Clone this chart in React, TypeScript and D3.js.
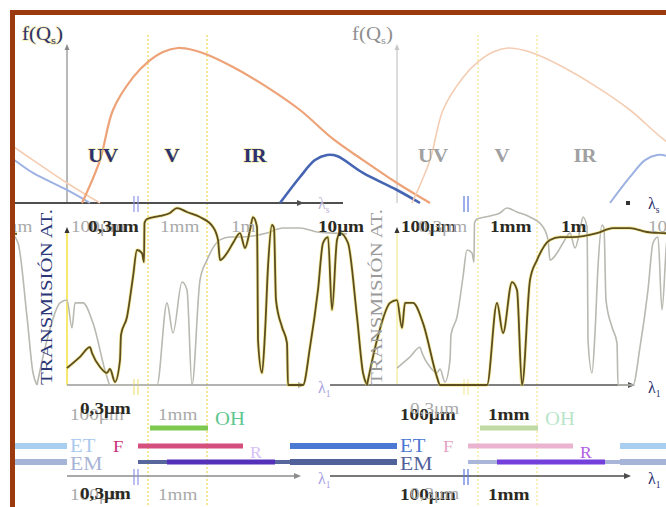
import React, { useEffect, useRef } from 'react';
import * as d3 from 'd3';

const W = 666;
const H = 507;
const PERIOD = 330;

// positions along a panel's wavelength axis (0 = vertical axis, 238 = arrow tip)
const bandNames = ['UV', 'V', 'IR'];
const bandCentres = [36, 105, 188];
const bandEdges = [81, 140];

// f(Q) emission curves (0..100)
const sunPos = [15, 33, 46, 66, 81, 96, 111, 126, 141, 166, 200, 233, 266, 296, 330, 363];
const sunVal = [0, 27.7, 60, 81, 91, 97.4, 100, 98.7, 95.5, 87.7, 74.8, 60, 41.3, 27.7, 12.9, 0];
const earthPos = [213, 233, 248, 260, 270, 296, 330, 353];
const earthVal = [0, 16.8, 27.7, 31, 30.3, 19.4, 8.4, 0];

// atmospheric transmission (%), two overlapping frames
const transAPos = [0, 13, 23, 25, 33, 40, 43, 48, 53, 54, 60, 66, 70, 75, 77, 77.5, 80, 93, 103, 110,
  120, 133, 146, 151, 153, 160, 166, 173, 178, 183, 186, 190, 190.5, 191, 195, 198, 201, 205, 207, 209,
  215, 220, 221, 236, 243, 251, 256, 261, 265, 270, 273, 281, 290, 296, 300];
const transAVal = [9.4, 15.6, 21, 17.8, 10, 6.7, 8.9, 1.7, 13.9, 27.8, 37.8, 60, 75, 73.3, 68.3, 90, 92.2, 93.9, 95.6, 98.3,
  96.1, 93.3, 87.8, 80.6, 69.4, 73.3, 78.9, 84.4, 76.1, 86.1, 93.3, 87.8, 65.6, 25, 6.7, 28.9, 65.6, 88.9, 87.2, 47.2,
  32.2, 23.3, 0, 0, 21, 52.8, 78.9, 82.2, 41.7, 80.6, 84.4, 78.9, 37.8, 6.7, 0];
const transBPos = [-30, -20, -7, 0, 5, 8, 16, 26, 40, 43, 90, 100, 106, 115, 120, 125, 133, 140, 153, 163,
  176, 200, 216, 233, 250, 266, 280];
const transBVal = [0, 25, 45.6, 47.2, 31.7, 45.6, 45.6, 34.4, 4.4, 0, 0, 45.6, 28.9, 57.2, 52.8, 0, 58.3, 69.4, 80.6, 82.2,
  82.2, 84.4, 87.2, 87.2, 85, 84.4, 84];

// wavelength tick labels
const ticksTopA = ['0,3μm', '10μm'];
const ticksTopAPos = [21, 251];
const ticksTopB = ['100μm', '1mm', '1m'];
const ticksTopBPos = [4, 93, 164];
const ticksBotA = ['0,3μm'];
const ticksBotAPos = [13];
const ticksBotB = ['100μm', '1mm'];
const ticksBotBPos = [3, 91];

// legend ranges
const ohRange = [83, 141];
const etRange = [-107, 0];
const rRange = [71, 176];
const emRange = [71, 276];
const emLeftRange = [-107, 0];
const violetRange = [100, 208];

const DARK_TXT = '#2b2a22';
const GRAY_TXT = '#a9a9a9';

const STRONG = {
  dash: '#f0d84a', topAxisV: '#8a8a8a', topAxisH: '#4f4f4f', showTopH: true,
  fq: '#2d3170', band: '#2d3170', halo: true, sun: '#eda277', earth: '#4565b3', curveW: 2.2,
  lambdaS: '#bdb6d6', trans: '#2c3777', midAxisV: '#f4e23c', midAxisH: '#9a9a9a', midStart: 0,
  lambda1: '#a9a2e2', darkIsA: true, labelA: DARK_TXT, labelB: GRAY_TXT,
  oh: '#7dc84f', ohText: '#61c68f', etBar: '#a9cff0', etText: '#abc9ee', emLeft: '#a6b4d8', emText: '#a8b3d6',
  f: '#c8307c', rBar: '#d44e7e', rText: '#d8c1f6', emMain: '#57679d', violet: '#5431b8',
  botAxis: '#8c8c8c', botStart: 0, lambda1Bot: '#a9a2e2', brk: '#8d95e6', brkMid: '#f1e27a',
};

const PALE = {
  dash: '#f5e48c', topAxisV: '#c6c6c6', topAxisH: '#ffffff', showTopH: false,
  fq: '#8e8e8e', band: '#a0a0a0', halo: false, sun: '#f4cdb3', earth: '#9db2e2', curveW: 1.6,
  lambdaS: '#2d3170', trans: '#9a9a9a', midAxisV: '#f6eea6', midAxisH: '#555555', midStart: -67,
  lambda1: '#2d3170', darkIsA: false, labelA: GRAY_TXT, labelB: DARK_TXT,
  oh: '#c1daa4', ohText: '#b9e6c9', etBar: '#4b78d2', etText: '#4b78d2', emLeft: '#51619a', emText: '#51619a',
  f: '#e3a3c4', rBar: '#eab4d0', rText: '#b25fe3', emMain: '#a9b6da', violet: '#7440dc',
  botAxis: '#4d4d4d', botStart: -67, lambda1Bot: '#2d3170', brk: '#5a78e0', brkMid: '#f3e9a0',
};

const copies = [
  { off: -PERIOD, s: PALE },
  { off: 0, s: STRONG },
  { off: PERIOD, s: PALE },
  { off: 2 * PERIOD, s: STRONG },
];

function label(g: any, px: number, py: number, str: string, o: any) {
  const t = g.append('text')
    .attr('transform', `translate(${px},${py}) scale(${o.sx ?? 1.15},1)`)
    .attr('font-size', o.size ?? 16)
    .attr('font-weight', o.bold ? 'bold' : 'normal')
    .attr('fill', o.color)
    .attr('text-anchor', o.anchor ?? 'start')
    .text(str);
  if (o.sub) {
    t.append('tspan').attr('font-size', (o.size ?? 16) * 0.6).attr('dy', 4).text(o.sub);
    if (o.tail) t.append('tspan').attr('dy', -4).text(o.tail);
  }
  if (o.halo) {
    t.attr('stroke', '#ece070').attr('stroke-width', 1.5).attr('stroke-opacity', 0.55).attr('paint-order', 'stroke');
  }
  return t;
}

function arrowRight(g: any, x: number, y: number, c: string) {
  g.append('path').attr('d', `M${x - 7},${y - 3}L${x},${y}L${x - 7},${y + 3}Z`).attr('fill', c);
}
function arrowUp(g: any, x: number, y: number, c: string) {
  g.append('path').attr('d', `M${x - 2.5},${y + 6}L${x},${y}L${x + 2.5},${y + 6}Z`).attr('fill', c);
}

function breakMarks(g: any, x: any, y1: number, y2: number, c: string) {
  [67, 71].forEach(u => g.append('line')
    .attr('x1', x(u)).attr('x2', x(u)).attr('y1', y1).attr('y2', y2)
    .attr('stroke', c).attr('stroke-width', 1.2));
}

function hbar(g: any, x: any, range: number[], y: number, w: number, c: string) {
  g.append('line')
    .attr('x1', x(range[0])).attr('x2', x(range[1])).attr('y1', y).attr('y2', y)
    .attr('stroke', c).attr('stroke-width', w);
}

function drawPanel(layers: any, off: number, s: any, yTop: any, yTr: any) {
  const { back, mid, front } = layers;
  const x = d3.scaleLinear().domain([0, 238]).range([67 + off, 305 + off]);

  // band boundaries
  bandEdges.forEach(u => back.append('line')
    .attr('x1', x(u)).attr('x2', x(u)).attr('y1', 35).attr('y2', H)
    .attr('stroke', s.dash).attr('stroke-width', 1.2).attr('stroke-dasharray', '2,2'));

  // ---- emission chart ----
  back.append('line').attr('x1', x(0)).attr('x2', x(0)).attr('y1', yTop(0)).attr('y2', 50)
    .attr('stroke', s.topAxisV).attr('stroke-width', 1.2);
  arrowUp(back, x(0), 44, s.topAxisV);
  if (s.showTopH) {
    back.append('line').attr('x1', x(-55)).attr('x2', x(276)).attr('y1', yTop(0)).attr('y2', yTop(0))
      .attr('stroke', s.topAxisH).attr('stroke-width', 1.8);
    arrowRight(back, x(237), yTop(0), s.topAxisH);
  } else {
    back.append('rect').attr('x', x(231) - 2).attr('y', yTop(0) - 2).attr('width', 4).attr('height', 4).attr('fill', '#333');
  }
  breakMarks(back, x, 196, 212, s.brk);

  const topLine = d3.line<number[]>()
    .x(d => x(d[0])).y(d => yTop(d[1]))
    .curve(d3.curveCatmullRom.alpha(0.5));
  mid.append('path').attr('d', topLine(d3.zip(sunPos, sunVal)))
    .attr('fill', 'none').attr('stroke', s.sun).attr('stroke-width', s.curveW);
  mid.append('path').attr('d', topLine(d3.zip(earthPos, earthVal)))
    .attr('fill', 'none').attr('stroke', s.earth).attr('stroke-width', s.curveW + 0.4);

  label(front, x(-45), 40, 'f(Q', { size: 19, color: s.fq, halo: s.halo, sx: 1.1, sub: 's', tail: ')' });
  bandNames.forEach((b, i) => label(front, x(bandCentres[i]), 162, b,
    { size: 19, color: s.band, bold: true, anchor: 'middle', halo: s.halo, sx: 1.1 }));
  label(front, x(251), 209, 'λ', { size: 16, color: s.lambdaS, sx: 1, sub: 's' });

  // ---- transmission chart ----
  front.append('text')
    .attr('transform', `translate(${x(-15)},385) rotate(-90)`)
    .attr('font-size', 17)
    .attr('fill', s.trans)
    .attr('textLength', 176)
    .attr('lengthAdjust', 'spacingAndGlyphs')
    .text('TRANSMISIÓN AT.');

  back.append('line').attr('x1', x(0)).attr('x2', x(0)).attr('y1', 232).attr('y2', yTr(0))
    .attr('stroke', s.midAxisV).attr('stroke-width', 1.5);
  arrowUp(back, x(0), 227, '#333');
  back.append('line').attr('x1', x(s.midStart)).attr('x2', x(236)).attr('y1', yTr(0)).attr('y2', yTr(0))
    .attr('stroke', s.midAxisH).attr('stroke-width', 1.4);
  arrowRight(back, x(238), yTr(0), s.midAxisH);
  label(front, x(251), 393, 'λ', { size: 16, color: s.lambda1, sx: 1, sub: '1' });
  breakMarks(back, x, 379, 395, s.brkMid);

  // positions rise strictly, so monotone smoothing never overshoots the baseline
  const trLine = d3.line<number[]>()
    .x(d => x(d[0])).y(d => yTr(d[1]))
    .curve(d3.curveMonotoneX);
  const aPath = trLine(d3.zip(transAPos, transAVal));
  const bPath = trLine(d3.zip(transBPos, transBVal));
  const darkPath = s.darkIsA ? aPath : bPath;
  const grayPath = s.darkIsA ? bPath : aPath;
  mid.append('path').attr('d', grayPath).attr('fill', 'none').attr('stroke', '#b9b9b1')
    .attr('stroke-width', 1.6);
  mid.append('path').attr('d', darkPath).attr('fill', 'none').attr('stroke', '#ebdf5c')
    .attr('stroke-width', 3.4).attr('stroke-opacity', 0.55);
  mid.append('path').attr('d', darkPath).attr('fill', 'none').attr('stroke', '#5d4d1f')
    .attr('stroke-width', 1.8);

  ticksTopB.forEach((t, i) => label(front, x(ticksTopBPos[i]), 232, t, { size: 16, color: s.labelB, bold: s.labelB === DARK_TXT, sx: 1.2 }));
  ticksTopA.forEach((t, i) => label(front, x(ticksTopAPos[i]), 232, t, { size: 16, color: s.labelA, bold: s.labelA === DARK_TXT, sx: 1.2 }));

  // ---- spectral bands legend ----
  ticksBotB.forEach((t, i) => label(front, x(ticksBotBPos[i]), 420, t, { size: 16, color: s.labelB, bold: s.labelB === DARK_TXT, sx: 1.2 }));
  ticksBotA.forEach((t, i) => label(front, x(ticksBotAPos[i]), 414, t, { size: 16, color: s.labelA, bold: s.labelA === DARK_TXT, sx: 1.2 }));

  hbar(mid, x, ohRange, 428, 5, s.oh);
  label(front, x(148), 425, 'OH', { size: 18, color: s.ohText, sx: 1.15 });

  hbar(mid, x, etRange, 446, 6, s.etBar);
  label(front, x(3), 452, 'ET', { size: 18, color: s.etText, sx: 1.15 });
  label(front, x(46), 452, 'F', { size: 17, color: s.f, sx: 1.1 });
  hbar(mid, x, rRange, 446, 5, s.rBar);
  label(front, x(183), 458, 'R', { size: 16, color: s.rText, sx: 1.1 });

  hbar(mid, x, emLeftRange, 462, 6, s.emLeft);
  label(front, x(3), 470, 'EM', { size: 18, color: s.emText, sx: 1.2 });
  hbar(mid, x, emRange, 462, 4, s.emMain);
  hbar(mid, x, violetRange, 462, 5, s.violet);

  back.append('line').attr('x1', x(s.botStart)).attr('x2', x(232)).attr('y1', 476).attr('y2', 476)
    .attr('stroke', s.botAxis).attr('stroke-width', 1.4);
  arrowRight(back, x(234), 476, s.botAxis);
  label(front, x(251), 484, 'λ', { size: 16, color: s.lambda1Bot, sx: 1, sub: '1' });
  breakMarks(back, x, 469, 485, s.brk);

  ticksBotB.forEach((t, i) => label(front, x(ticksBotBPos[i]), 500, t, { size: 16, color: s.labelB, bold: s.labelB === DARK_TXT, sx: 1.2 }));
  ticksBotA.forEach((t, i) => label(front, x(ticksBotAPos[i]), 499, t, { size: 16, color: s.labelA, bold: s.labelA === DARK_TXT, sx: 1.2 }));
}

export default function App() {
  const ref = useRef<SVGSVGElement>(null);

  useEffect(() => {
    const svg = d3.select(ref.current);
    svg.selectAll('*').remove();

    svg.append('defs').append('clipPath').attr('id', 'frame-clip')
      .append('rect').attr('x', 14).attr('y', 14).attr('width', W).attr('height', H);
    svg.append('rect').attr('width', W).attr('height', H).attr('fill', '#ffffff');

    const root = svg.append('g')
      .attr('clip-path', 'url(#frame-clip)')
      .style('font-family', '"Liberation Serif", "DejaVu Serif", serif');
    const layers = { back: root.append('g'), mid: root.append('g'), front: root.append('g') };

    const yTop = d3.scaleLinear().domain([0, 100]).range([203, 48]);
    const yTr = d3.scaleLinear().domain([0, 100]).range([385, 205]);

    copies.forEach(c => drawPanel(layers, c.off, c.s, yTop, yTr));

    // slide frame
    svg.append('path')
      .attr('d', `M${W + 10},12.5H12.5V${H + 10}`)
      .attr('fill', 'none').attr('stroke', '#9a3a0e').attr('stroke-width', 5);
  }, []);

  return (
    <svg ref={ref} width={W} height={H}
      style={{ position: 'fixed', left: 0, top: 0, display: 'block' }} />
  );
}
